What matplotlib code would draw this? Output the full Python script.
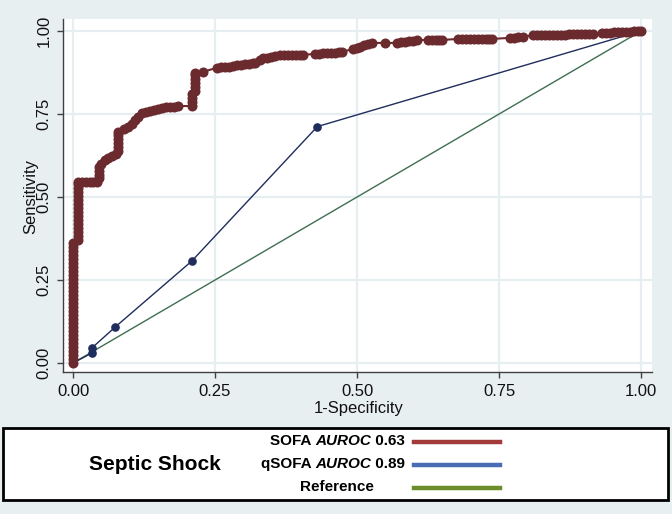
import matplotlib
matplotlib.use("Agg")
import matplotlib.pyplot as plt
from matplotlib.patches import Rectangle
from matplotlib.lines import Line2D

# ---------------- data ----------------
sofa_fpr = [0, 0, 0, 0, 0, 0, 0, 0, 0, 0, 0, 0, 0, 0, 0, 0, 0, 0, 0, 0, 0, 0, 0, 0, 0, 0, 0, 0, 0, 0, 0,
            0.009, 0.009, 0.009, 0.009, 0.009, 0.009, 0.009, 0.009, 0.009, 0.009, 0.009, 0.009,
            0.009, 0.009, 0.009, 0.009,
            0.016, 0.023, 0.030, 0.036, 0.042,
            0.045, 0.045, 0.045, 0.045, 0.050, 0.056, 0.062, 0.069, 0.075,
            0.079, 0.079, 0.079, 0.079, 0.079, 0.079,
            0.090, 0.097, 0.103, 0.109, 0.115, 0.121, 0.128, 0.135, 0.142, 0.149, 0.156, 0.163,
            0.170, 0.177, 0.185,
            0.209, 0.209, 0.209, 0.209, 0.215, 0.215, 0.215, 0.215, 0.215, 0.215, 0.229,
            0.253, 0.260, 0.267, 0.274, 0.281, 0.288, 0.295, 0.302, 0.309, 0.316, 0.320,
            0.329, 0.335, 0.342, 0.349, 0.356, 0.364, 0.371, 0.378, 0.385, 0.392, 0.399, 0.405,
            0.426, 0.433, 0.440, 0.447, 0.454, 0.461, 0.468, 0.474,
            0.493, 0.499, 0.505, 0.512, 0.519, 0.526,
            0.549,
            0.570, 0.577, 0.584, 0.591, 0.598, 0.606,
            0.625, 0.632, 0.639, 0.645, 0.650,
            0.678, 0.685, 0.692, 0.699, 0.706, 0.713, 0.720, 0.727, 0.733, 0.738,
            0.769, 0.776, 0.783, 0.792,
            0.810, 0.817, 0.824, 0.831, 0.838, 0.845, 0.852, 0.859, 0.866, 0.873, 0.880, 0.887,
            0.894, 0.901, 0.908, 0.915,
            0.931, 0.938, 0.945, 0.952, 0.959, 0.966, 0.973, 0.980, 0.987, 0.994, 1.000]
sofa_tpr = [0.000, 0.012, 0.024, 0.036, 0.048, 0.060, 0.072, 0.084, 0.096, 0.108, 0.120, 0.132,
            0.144, 0.156, 0.168, 0.180, 0.192, 0.204, 0.216, 0.228, 0.240, 0.252, 0.264, 0.276,
            0.288, 0.300, 0.312, 0.324, 0.336, 0.348, 0.360,
            0.370, 0.382, 0.394, 0.406, 0.418, 0.430, 0.442, 0.454, 0.466, 0.478, 0.490, 0.502,
            0.514, 0.526, 0.538, 0.545,
            0.545, 0.545, 0.545, 0.545, 0.545,
            0.556, 0.567, 0.578, 0.589, 0.600, 0.610, 0.617, 0.623, 0.628,
            0.638, 0.650, 0.662, 0.674, 0.686, 0.696,
            0.705, 0.711, 0.720, 0.732, 0.742, 0.753, 0.755, 0.758, 0.761, 0.764, 0.767, 0.770,
            0.771, 0.772, 0.774,
            0.774, 0.786, 0.798, 0.810, 0.818, 0.830, 0.842, 0.854, 0.866, 0.873, 0.877,
            0.889, 0.890, 0.891, 0.892, 0.894, 0.896, 0.897, 0.899, 0.901, 0.903, 0.904,
            0.912, 0.918, 0.920, 0.922, 0.925, 0.928, 0.928, 0.928, 0.928, 0.928, 0.928, 0.928,
            0.931, 0.932, 0.933, 0.934, 0.935, 0.935, 0.936, 0.937,
            0.946, 0.950, 0.953, 0.957, 0.961, 0.964,
            0.964,
            0.964, 0.966, 0.968, 0.970, 0.971, 0.973,
            0.973, 0.973, 0.973, 0.973, 0.973,
            0.976, 0.976, 0.976, 0.976, 0.976, 0.976, 0.976, 0.976, 0.976, 0.976,
            0.979, 0.980, 0.981, 0.982,
            0.988, 0.988, 0.988, 0.988, 0.988, 0.989, 0.989, 0.989, 0.989, 0.990, 0.990, 0.990,
            0.990, 0.991, 0.991, 0.991,
            0.994, 0.995, 0.995, 0.996, 0.996, 0.997, 0.997, 0.998, 0.999, 0.999, 1.000]

qsofa_fpr = [0.0, 0.033, 0.033, 0.074, 0.209, 0.430, 1.0]
qsofa_tpr = [0.0, 0.030, 0.045, 0.108, 0.307, 0.712, 1.0]

ref_x = [0.0, 1.0]
ref_y = [0.0, 1.0]

ticks = [0.0, 0.25, 0.5, 0.75, 1.0]
tick_labels = ["0.00", "0.25", "0.50", "0.75", "1.00"]

legend_labels = [("SOFA ", "AUROC", " 0.63"), ("qSOFA ", "AUROC", " 0.89"), ("Reference", "", "")]
legend_colors = ["#a33a3a", "#4a6cb5", "#6b8e2a"]
legend_title = "Septic Shock"

# ---------------- figure ----------------
W, H = 672, 514
BG = "#e8eff1"
fig = plt.figure(figsize=(W / 100, H / 100), dpi=100, facecolor=BG)

def fx(px):
    return px / W

def fy(py):
    return 1 - py / H

L, R, T, B = 63, 652, 19, 372
ax = fig.add_axes([fx(L), fy(B), fx(R) - fx(L), fy(T) - fy(B)])
ax.set_facecolor("white")
ax.set_xlim(-0.0176, 1.019)
ax.set_ylim(-0.027, 1.036)

for v in ticks:
    ax.axvline(v, color="#e6eef1", lw=1.6, zorder=0)
    ax.axhline(v, color="#e6eef1", lw=1.6, zorder=0)

ax.plot(ref_x, ref_y, color="#3f6e50", lw=1.0, zorder=2)
ax.plot(qsofa_fpr, qsofa_tpr, color="#1f2d5c", lw=1.0, marker="o", ms=5.2,
        mfc="#1f2d5c", mec="#1f2d5c", zorder=3)
ax.plot(sofa_fpr, sofa_tpr, color="#6b2a2e", lw=1.5, marker="o", ms=6.2,
        mfc="#6b2a2e", mec="#6b2a2e", zorder=4)

for s in ["top", "right"]:
    ax.spines[s].set_visible(False)
for s in ["left", "bottom"]:
    ax.spines[s].set_color("#404040")
    ax.spines[s].set_linewidth(1.0)

tfam = ["Liberation Sans", "DejaVu Sans"]
ax.set_xticks(ticks)
ax.set_xticklabels(tick_labels)
ax.set_yticks(ticks)
ax.set_yticklabels(tick_labels, rotation=90, va="center")
ax.tick_params(direction="out", length=4.3, width=1, color="#404040",
               labelsize=12, labelcolor="#111111", pad=4)
for t in ax.get_xticklabels() + ax.get_yticklabels():
    t.set_fontfamily(tfam)

ax.set_xlabel("1-Specificity", fontsize=12, family=tfam, color="#111111")
ax.xaxis.set_label_coords((359 - L) / (R - L), -(409 - B) / (B - T), transform=ax.transAxes)
ax.set_ylabel("Sensitivity", fontsize=12, family=tfam, color="#111111")
ax.yaxis.set_label_coords(-(L - 31) / (R - L), (B - 196) / (B - T), transform=ax.transAxes)
ax.xaxis.label.set_va("center")
ax.yaxis.label.set_va("center")

# ---------------- legend box ----------------
box = Rectangle((fx(3), fy(500)), fx(668) - fx(3), fy(428) - fy(500), transform=fig.transFigure,
                facecolor="white", edgecolor="black", lw=2.0, zorder=5)
fig.patches.append(box)

lfam = ["Liberation Sans", "DejaVu Sans"]
fig.text(fx(155), fy(464), legend_title, ha="center", va="center", fontsize=15,
         fontweight="bold", family=lfam, zorder=6)

rows_y = [441, 464, 487]
for (a, b, c), col, yy in zip(legend_labels, legend_colors, rows_y):
    if b:
        t3 = fig.text(fx(405), fy(yy), c, ha="right", va="center", fontsize=11,
                      fontweight="bold", family=lfam, zorder=6)
        fig.canvas.draw()
        bb = t3.get_window_extent()
        t2 = fig.text(bb.x0 / W, fy(yy), b, ha="right", va="center", fontsize=11,
                      fontweight="bold", style="italic", family=lfam, zorder=6)
        bb2 = t2.get_window_extent()
        fig.text(bb2.x0 / W, fy(yy), a, ha="right", va="center", fontsize=11,
                 fontweight="bold", family=lfam, zorder=6)
    else:
        fig.text(fx(374), fy(yy), a, ha="right", va="center", fontsize=11,
                 fontweight="bold", family=lfam, zorder=6)
    fig.lines.append(Line2D([fx(414), fx(500)], [fy(yy + 1), fy(yy + 1)], transform=fig.transFigure,
                            color=col, lw=3.2, zorder=6))

fig.savefig("out.png", dpi=100, facecolor=BG)
